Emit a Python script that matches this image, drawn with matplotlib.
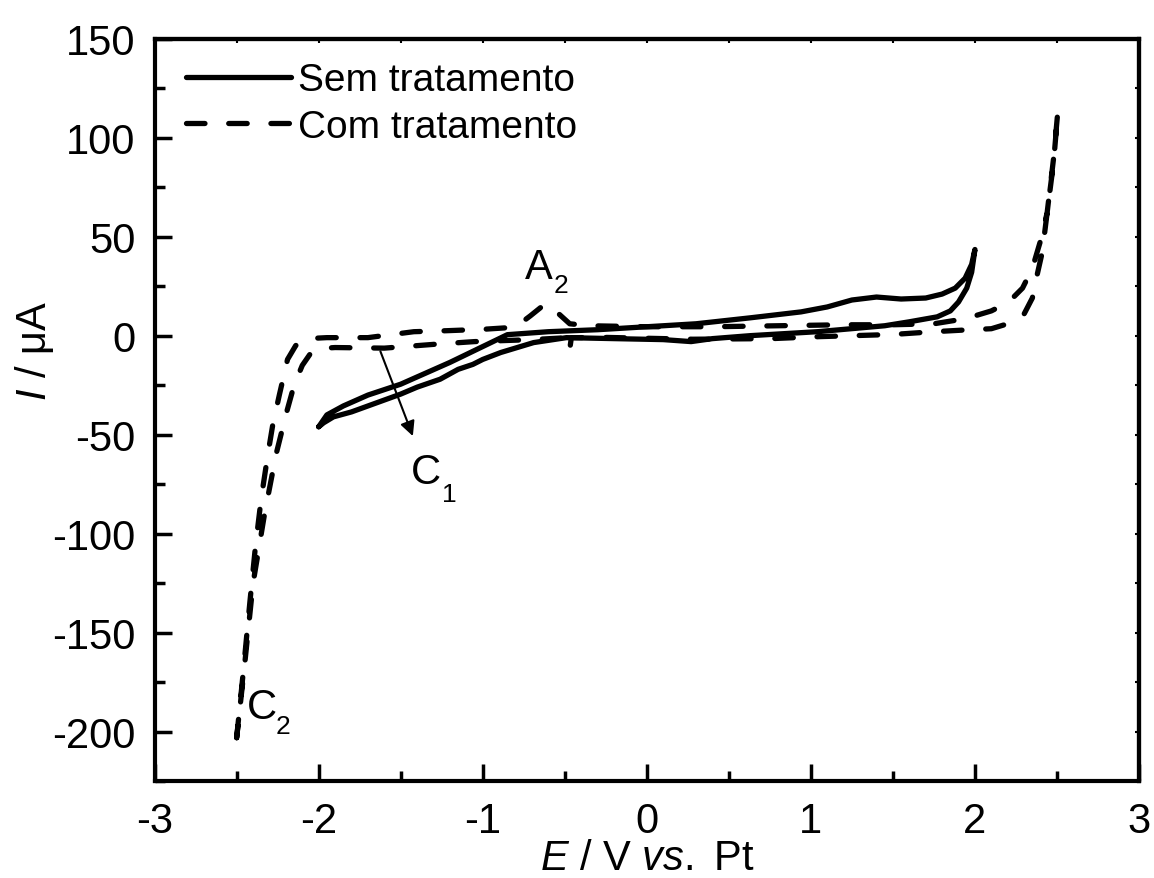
import matplotlib
matplotlib.use("Agg")
import matplotlib.pyplot as plt
from matplotlib.ticker import MultipleLocator

plt.rcParams['font.family'] = ['Liberation Sans', 'DejaVu Sans']
plt.rcParams['mathtext.fontset'] = 'custom'
plt.rcParams['mathtext.rm'] = 'Liberation Sans'
plt.rcParams['mathtext.it'] = 'Liberation Sans:italic'
plt.rcParams['axes.unicode_minus'] = False

# voltammogram without treatment: forward sweep then return sweep
sem_x = [-2.0, -1.95, -1.85, -1.7, -1.5, -1.35, -1.2, -1.0, -0.85, -0.6, -0.3,
         0.0, 0.3, 0.63, 0.94, 1.1, 1.25, 1.4, 1.55, 1.7, 1.8, 1.88, 1.94, 1.98, 2.0,
         1.98, 1.95, 1.9, 1.85, 1.77, 1.6, 1.45, 1.04, 0.63, 0.4, 0.27, 0.1, -0.2,
         -0.49, -0.69, -0.89, -1.0, -1.06, -1.15, -1.26, -1.4, -1.5, -1.65, -1.8,
         -1.91, -1.97, -2.0]
sem_y = [-46, -40, -35.5, -30, -24.5, -19, -13.5, -5.5, 0.5, 2, 3,
         4.5, 6, 9, 12, 14.5, 18, 19.5, 18.5, 19, 21, 24, 29, 36, 43.5,
         32, 24, 17, 12.5, 9.5, 7, 5, 2, 0, -1.5, -3, -2, -1.5,
         -1, -3.5, -8.5, -12, -14.5, -17, -22, -26, -29.5, -34, -38.5,
         -41, -44, -46]

# voltammogram after treatment
com_x = [-2.5, -2.46, -2.42, -2.385, -2.35, -2.31, -2.28, -2.24, -2.19, -2.14,
         -2.07, -1.95, -1.7, -1.42, -1.22, -1.0, -0.85, -0.79, -0.71, -0.62,
         -0.55, -0.47, -0.35, 0.0, 0.4, 0.8, 1.2, 1.5, 1.75, 1.9, 2.0, 2.1, 2.16,
         2.23, 2.29, 2.35, 2.4, 2.44, 2.48, 2.505,
         2.48, 2.44, 2.41, 2.38, 2.35, 2.3, 2.26, 2.2, 2.1, 1.97, 1.75, 1.5, 1.05,
         0.76, 0.28, -0.24, -0.42, -0.46, -0.47, -0.48, -0.7, -1.05, -1.3,
         -1.6, -1.9, -2.0, -2.05, -2.1, -2.15, -2.2, -2.26, -2.33, -2.4, -2.45, -2.5]
com_y = [-203, -170, -135, -106, -82, -60, -45, -30, -12, -5,
         -1.5, -1, -1, 2, 2.5, 3.2, 4, 5, 10, 16,
         12, 6, 5, 4.5, 4.5, 5, 5.5, 5.5, 6, 8, 10, 12.5, 15,
         19, 24, 34, 48, 62, 90, 113,
         88, 62, 42, 31, 19, 11, 8.6, 6, 3.5, 3, 2, 0.6, -0.5,
         -1.5, -1.8, -0.9, -1, -1, -7, -1, -2, -3, -4.4,
         -6.3, -6, -6.5, -9, -15, -25, -40, -60, -90, -125, -165, -203]

# peak labels: letter, subscript, letter position, subscript position
peak_labels = [
    ('A', '2', (-0.74, 29), (-0.57, 21.9)),
    ('C', '1', (-1.44, -74.6), (-1.25, -83.5)),
    ('C', '2', (-2.436, -193), (-2.265, -200.4)),
]

fig = plt.figure(figsize=(11.54, 8.79), dpi=100)
ax = fig.add_axes([0.134, 0.110, 0.853, 0.845])

ax.plot(sem_x, sem_y, color='black', lw=3.8, solid_capstyle='round',
        solid_joinstyle='round', label='Sem tratamento')
ax.plot(com_x, com_y, color='black', lw=3.8, linestyle=(0, (3.5, 4.5)),
        dash_capstyle='round', label='Com tratamento')

ax.set_xlim(-3, 3)
ax.set_ylim(-225, 150)
ax.xaxis.set_major_locator(MultipleLocator(1))
ax.xaxis.set_minor_locator(MultipleLocator(0.5))
ax.yaxis.set_major_locator(MultipleLocator(50))
ax.yaxis.set_minor_locator(MultipleLocator(25))
ax.tick_params(which='major', direction='in', length=12, width=2.5,
               labelsize=30, pad=14)
ax.tick_params(which='minor', direction='in', length=7, width=2.5)
for s in ax.spines.values():
    s.set_linewidth(3)

# short ticks on the top and right edges
top = ax.secondary_xaxis('top')
top.xaxis.set_major_locator(MultipleLocator(0.5))
top.tick_params(direction='in', length=3, width=1.5, labeltop=False)
top.spines['top'].set_linewidth(3)
right = ax.secondary_yaxis('right')
right.yaxis.set_major_locator(MultipleLocator(25))
right.tick_params(direction='in', length=3, width=1.5, labelright=False)
right.spines['right'].set_linewidth(3)

ax.set_xlabel(r'$E$ / V $vs.$ Pt', fontsize=30)
ax.set_ylabel(r'$I$ / μA', fontsize=30)
ax.xaxis.set_label_coords(0.5, -0.076)
ax.yaxis.set_label_coords(-0.100, 0.58)

for letter, sub, (lx, ly), (sx, sy) in peak_labels:
    ax.text(lx, ly, letter, fontsize=30, va='baseline')
    ax.text(sx, sy, sub, fontsize=19, va='baseline')

ax.annotate('', xy=(-1.42, -52), xytext=(-1.63, -6.6),
            arrowprops=dict(arrowstyle='-|>', color='black', lw=1.5,
                            mutation_scale=22))

ax.legend(loc='upper left', bbox_to_anchor=(0.032, 0.968), frameon=False,
          fontsize=28, handlelength=2.7, handletextpad=0.18,
          labelspacing=0.27, borderaxespad=0, borderpad=0)

fig.savefig('out.png', dpi=100)
